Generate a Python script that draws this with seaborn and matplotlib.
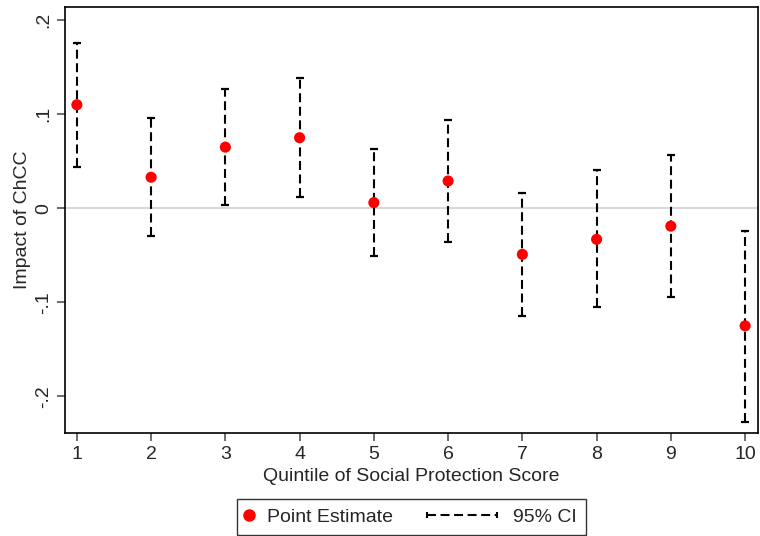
import matplotlib
matplotlib.use("Agg")
import matplotlib.pyplot as plt
from matplotlib.lines import Line2D
from matplotlib.legend_handler import HandlerBase
import seaborn as sns
import pandas as pd
import numpy as np

quintiles = [1, 2, 3, 4, 5, 6, 7, 8, 9, 10]
estimate = [0.110, 0.033, 0.065, 0.075, 0.006, 0.029, -0.049, -0.033, -0.019, -0.125]
ci_upper = [0.176, 0.096, 0.127, 0.138, 0.063, 0.094, 0.016, 0.041, 0.057, -0.024]
ci_lower = [0.044, -0.030, 0.004, 0.012, -0.051, -0.036, -0.115, -0.105, -0.094, -0.227]
yticks = [-0.2, -0.1, 0.0, 0.1, 0.2]
ytick_labels = ["-.2", "-.1", "0", ".1", ".2"]

sns.set_theme(style="white")
plt.rcParams["font.family"] = ["Liberation Sans", "DejaVu Sans"]

FS = 14
DASH = (0, (4.3, 2.2))

df = pd.DataFrame({"q": quintiles, "est": estimate, "lo": ci_lower, "hi": ci_upper})

fig = plt.figure(figsize=(7.6, 5.36), dpi=100)
ax = fig.add_axes([0.0855, 0.192, 0.9115, 0.795])

ax.axhline(0, color="#d9d9d9", lw=1.5, zorder=0)

est = df["est"].to_numpy()
err = [est - df["lo"].to_numpy(), df["hi"].to_numpy() - est]
eb = ax.errorbar(df["q"], est, yerr=err, fmt="none", ecolor="black",
                 elinewidth=1.5, capsize=3.2, capthick=1.6, zorder=2)
for lc in eb[2]:
    lc.set_linestyle(DASH)

sns.scatterplot(data=df, x="q", y="est", color="red", s=64, edgecolor="none",
                zorder=3, ax=ax, legend=False)

ax.set_xlim(0.84, 10.17)
ax.set_ylim(-0.239, 0.214)
ax.set_xticks(quintiles)
ax.set_xticklabels([str(q) for q in quintiles], fontsize=FS)
ax.set_yticks(yticks)
ax.set_yticklabels(ytick_labels, fontsize=FS, rotation=90, va="center")
ax.tick_params(axis="both", direction="out", length=6, width=1.1, color="#444444",
               left=True, bottom=True, pad=3)
ax.set_xlabel("Quintile of Social Protection Score", fontsize=FS, labelpad=3.6)
ax.set_ylabel("Impact of ChCC", fontsize=FS, labelpad=3)
for sp in ax.spines.values():
    sp.set_visible(True)
    sp.set_color("black")
    sp.set_linewidth(1.2)


class CIHandler(HandlerBase):
    """Dashed CI segment with end caps, drawn leftwards into the column gap."""
    def create_artists(self, legend, orig_handle, xdescent, ydescent, width,
                       height, fontsize, trans):
        y = height / 2 - ydescent
        x1 = width - xdescent - 0.65
        x0 = x1 - 50.4
        line = Line2D([x0, x1], [y, y], color="black", lw=1.5, ls=DASH,
                      transform=trans)
        caps = Line2D([x0, x1], [y, y], color="black", ls="none", marker="|",
                      markersize=4.2, markeredgewidth=1.5, transform=trans)
        return [line, caps]


h_pt = Line2D([0], [0], marker="o", color="red", ls="none", markersize=8)
h_ci = Line2D([0], [0], color="black")
leg = ax.legend([h_pt, h_ci], ["Point Estimate", "95% CI"],
                loc="upper center", bbox_to_anchor=(0.5, -0.1547), ncol=2,
                fontsize=FS, frameon=True, fancybox=False, edgecolor="black",
                handler_map={h_ci: CIHandler()},
                handlelength=0.3, handletextpad=0.78, columnspacing=5.1,
                borderpad=0.47, borderaxespad=0.0)
leg.get_frame().set_linewidth(1.0)

fig.savefig("out.png", dpi=100)
